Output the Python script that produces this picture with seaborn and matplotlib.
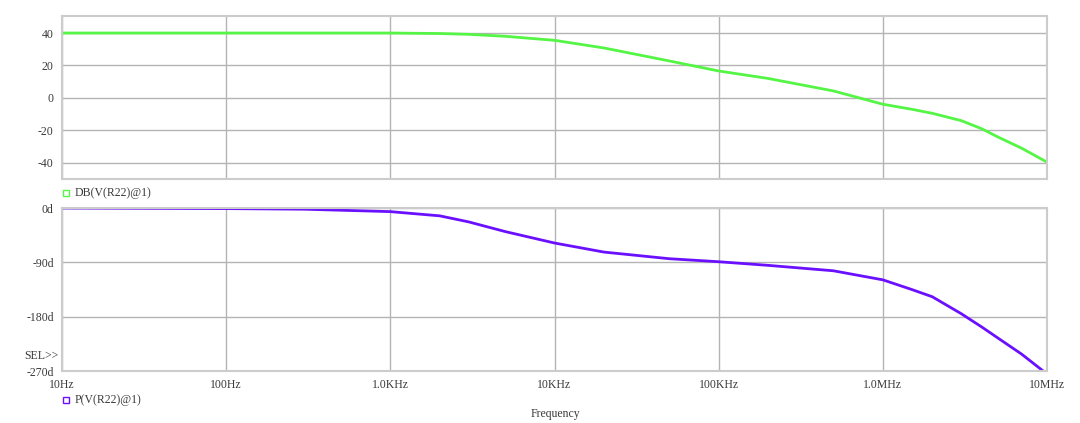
import matplotlib
matplotlib.use("Agg")
import matplotlib.pyplot as plt
import seaborn as sns
import pandas as pd
from matplotlib.lines import Line2D

# ---- data ----
freq_db = [10, 100, 1000, 2000, 3000, 5000, 10000, 20000, 50000, 100000,
           200000, 500000, 1e6, 1.5e6, 2e6, 3e6, 4e6, 5e6, 7e6, 1e7]
mag_db = [40, 40, 40, 39.7, 39.2, 38, 35.5, 30.8, 22.8, 16.6,
          12, 4.3, -3.9, -7, -9.5, -14, -19, -24, -31, -39.6]

freq_ph = [10, 100, 300, 1000, 2000, 3000, 5000, 10000, 20000, 50000, 100000,
           200000, 500000, 1e6, 1.5e6, 2e6, 3e6, 4e6, 5e6, 7e6, 1e7]
phase_deg = [0, -1, -2, -6, -13, -23, -39, -58, -73, -84, -89,
             -95, -104, -119, -135, -147, -175, -197, -215, -242, -275]

x_ticks = [10, 100, 1e3, 1e4, 1e5, 1e6, 1e7]
x_labels = ["10Hz", "100Hz", "1.0KHz", "10KHz", "100KHz", "1.0MHz", "10MHz"]
db_ticks = [40, 20, 0, -20, -40]
db_labels = ["40", "20", "0", "-20", "-40"]
ph_ticks = [0, -90, -180, -270]
ph_labels = ["0d", "-90d", "-180d", "-270d"]

label_db = "DB(V(R22)@1)"
label_ph = "P(V(R22)@1)"

green = "#55f545"
purple = "#6a10ff"

sns.set_theme(style="white")
plt.rcParams["font.family"] = ["Liberation Serif", "DejaVu Serif"]

fig = plt.figure(figsize=(10.8, 4.23), dpi=100)
ax1 = fig.add_axes([62 / 1080, 1 - 179 / 423, 985 / 1080, 163 / 423])
ax2 = fig.add_axes([62 / 1080, 1 - 371 / 423, 985 / 1080, 163 / 423])

df1 = pd.DataFrame({"f": freq_db, "v": mag_db})
df2 = pd.DataFrame({"f": freq_ph, "v": phase_deg})
sns.lineplot(data=df1, x="f", y="v", ax=ax1, color=green, linewidth=2.0)
sns.lineplot(data=df2, x="f", y="v", ax=ax2, color=purple, linewidth=2.0)

spine_c = "#cccccc"
grid_c = "#b4b4b4"
txt_c = "#3a3a3a"
fs = 8.5

for ax in (ax1, ax2):
    ax.set_xscale("log")
    ax.set_xlim(10, 1e7)
    ax.set_xticks(x_ticks)
    ax.minorticks_off()
    ax.grid(True, color=grid_c, linewidth=1.0)
    for s in ax.spines.values():
        s.set_color(spine_c)
        s.set_linewidth(1.5)
    ax.set_xlabel("")
    ax.set_ylabel("")
    ax.tick_params(axis="both", which="both", length=4, color=grid_c,
                   labelsize=fs, labelcolor=txt_c, direction="out", pad=2)

ax1.set_ylim(-50, 50.5)
ax1.set_yticks(db_ticks)
ax1.set_yticklabels(db_labels)
ax1.set_xticklabels([])
ax1.tick_params(axis="x", length=0)

ax2.set_ylim(-270, 0)
ax2.set_yticks(ph_ticks)
ax2.set_yticklabels(ph_labels)
ax2.set_xticklabels(x_labels)

# legends (marker square + label), placed as in the reference
for ypix, col, lab in ((193, green, label_db), (400, purple, label_ph)):
    yf = 1 - ypix / 423
    fig.add_artist(Line2D([66 / 1080], [yf], marker="s", markersize=5,
                          markerfacecolor="none", markeredgecolor=col,
                          markeredgewidth=1.0, linestyle="none",
                          transform=fig.transFigure))
    fig.text(75 / 1080, yf, lab, color=txt_c, fontsize=fs,
             va="center", ha="left")

fig.text(24 / 1080, 1 - 356 / 423, "SEL>>", color=txt_c, fontsize=fs,
         va="center", ha="left")
fig.text(555 / 1080, 1 - 414 / 423, "Frequency", color=txt_c, fontsize=fs,
         va="center", ha="center")

fig.savefig("out.png", dpi=100)
